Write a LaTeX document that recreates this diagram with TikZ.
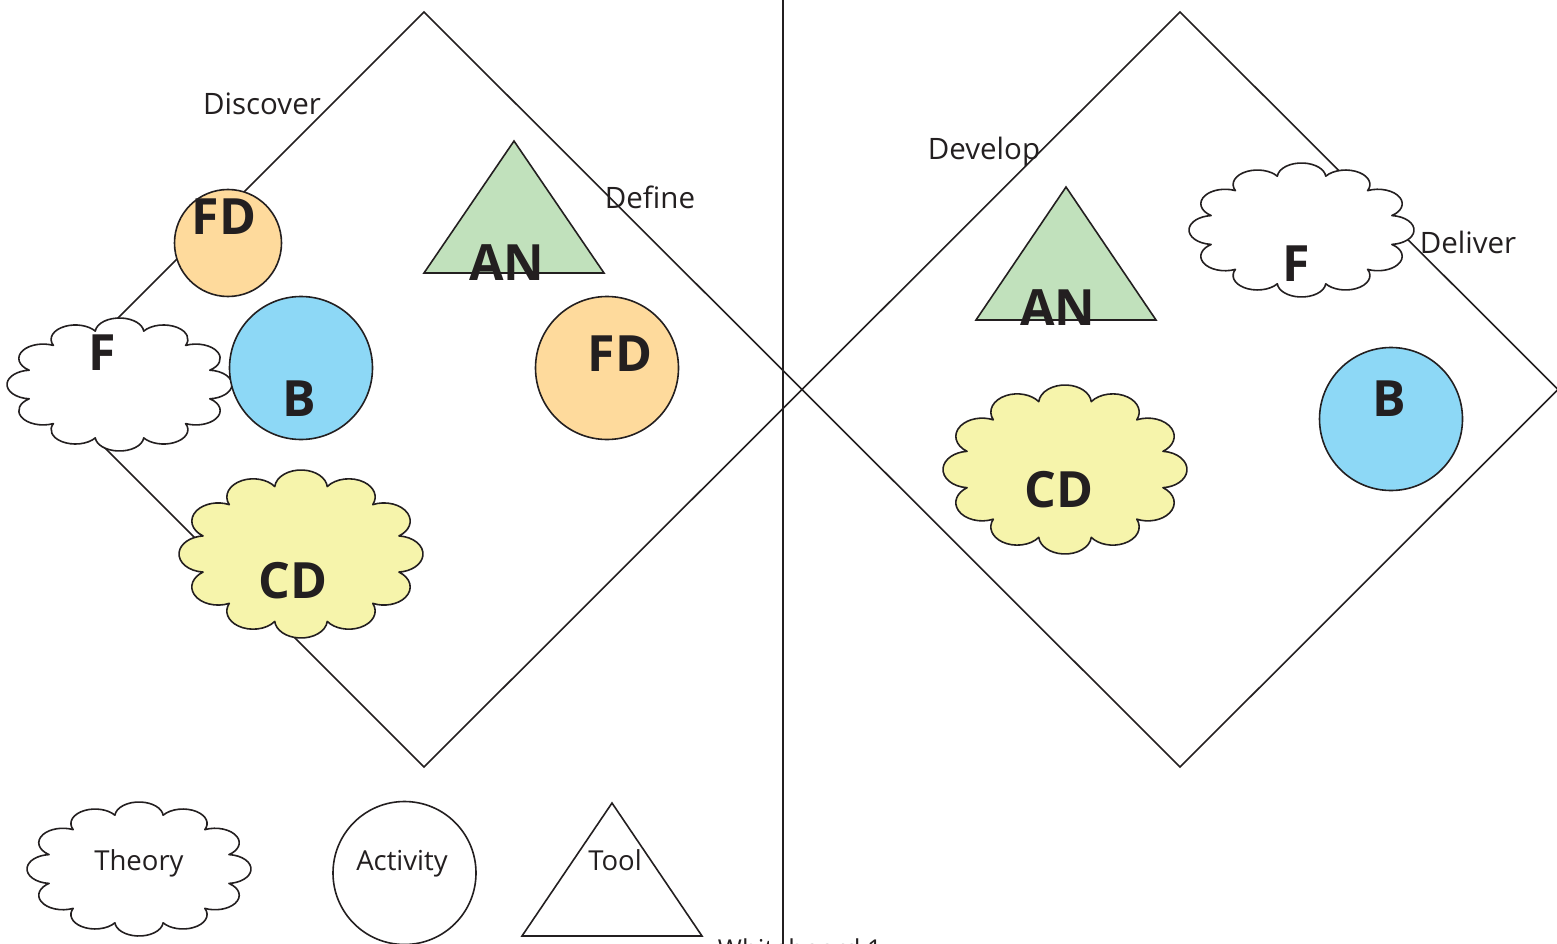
\documentclass[tikz,border=0pt]{standalone}
\usepackage{fontspec}
\setmainfont{Open Sans}
\definecolor{ink}{HTML}{231F20}
\definecolor{peach}{HTML}{FEDA9C}
\definecolor{sky}{HTML}{8DD8F6}
\definecolor{sage}{HTML}{C1E1BC}
\definecolor{lemon}{HTML}{F6F4AB}
% a twelve-puff cloud: #1 name, #2/#3 centre, #4/#5 outer width/height, #6 fill
\newcommand\puffcloud[6]{%
  \begin{scope}[shift={(#2,#3)}, xscale=#4/2.406, yscale=#5/2.406]
    \path[outline, fill=#6] (-15:1)
      \foreach \t in {-15,15,...,315} {arc[start angle=\t-70, end angle=\t+100, radius=0.2598]} -- cycle;
    \coordinate (#1) at (0,0);
  \end{scope}}
\begin{document}
\begin{tikzpicture}[x=1pt,y=-1pt,
  outline/.style={draw=ink, line width=1.6pt, line join=round},
  tag/.style={font=\fontsize{29.5}{34}\selectfont, text=ink, inner sep=0pt, anchor=base},
  keytag/.style={font=\fontsize{27.5}{32}\selectfont, text=ink, inner sep=0pt, anchor=base},
  bigtag/.style={font=\fontsize{50}{56}\selectfont\bfseries, text=ink, inner sep=0pt, anchor=base},
  disc/.style={circle, outline, inner sep=0pt},
  tri/.style={outline, line join=miter},
]
\path[use as bounding box] (0,0) rectangle (1557,944);

% the two phase diamonds
\coordinate (lt) at (424,12);   \coordinate (lr) at (802,389.5);
\coordinate (lb) at (424,767);  \coordinate (ll) at (46.5,389.5);
\coordinate (rt) at (1180,12);  \coordinate (rr) at (1558,389.5);
\coordinate (rb) at (1180,767); \coordinate (rl) at (802,389.5);
\draw[outline, line join=miter] (lt) -- (lr) -- (lb) -- (ll) -- cycle;
\draw[outline, line join=miter] (rt) -- (rr) -- (rb) -- (rl) -- cycle;

% divider
\coordinate (vtop) at (783,0);
\coordinate (vbot) at (783,944);
\draw[outline] (vtop) -- (vbot);

% phase labels
\node[tag] (discover) at (262,115) {Discover};
\node[tag] (define)   at (650,208) {Define};
\node[tag] (develop)  at (984,160) {Develop};
\node[tag] (deliver)  at (1468,253) {Deliver};

% left diamond contents
\puffcloud{fL}{119.5}{384.5}{225}{133}{white}
\node[bigtag] (fLt) at (102,370) {F};
\node[disc, fill=peach, minimum size=107pt] (fdA) at (228,243) {};
\node[bigtag] (fdAt) at (224,234) {FD};
\coordinate (anA1) at (424,273); \coordinate (anA2) at (604,273); \coordinate (anA3) at (514,141);
\draw[tri, fill=sage] (anA1) -- (anA2) -- (anA3) -- cycle;
\node[bigtag] (anAt) at (507,280) {AN};
\node[disc, fill=sky, minimum size=143pt] (bA) at (301,368) {};
\node[bigtag] (bAt) at (299,416) {B};
\node[disc, fill=peach, minimum size=143pt] (fdB) at (607,368) {};
\node[bigtag] (fdBt) at (620,371) {FD};
\puffcloud{cdA}{301}{554}{244}{168}{lemon}
\node[bigtag] (cdAt) at (293,598) {CD};

% right diamond contents
\coordinate (anB1) at (976,320); \coordinate (anB2) at (1156,320); \coordinate (anB3) at (1066,187);
\draw[tri, fill=sage] (anB1) -- (anB2) -- (anB3) -- cycle;
\node[bigtag] (anBt) at (1058,325) {AN};
\puffcloud{fR}{1301.5}{230}{225}{134}{white}
\node[bigtag] (fRt) at (1296,281) {F};
\node[disc, fill=sky, minimum size=143pt] (bB) at (1391,419) {};
\node[bigtag] (bBt) at (1389,416) {B};
\puffcloud{cdB}{1065}{469.5}{244}{169}{lemon}
\node[bigtag] (cdBt) at (1059,507) {CD};

% legend
\puffcloud{theory}{139}{869}{224}{134}{white}
\node[keytag] (theoryt) at (139,870) {Theory};
\node[disc, fill=white, minimum size=143pt] (activity) at (404.5,873) {};
\node[keytag] (activityt) at (402,870) {Activity};
\coordinate (tl1) at (522,936); \coordinate (tl2) at (702,936); \coordinate (tl3) at (612,803);
\draw[tri, fill=white] (tl1) -- (tl2) -- (tl3) -- cycle;
\node[keytag] (toolt) at (615,870) {Tool};

% board title along the lower edge
\node[font=\fontsize{26}{30}\selectfont, text=ink, inner sep=0pt, anchor=base] (title) at (800,958) {Whiteboard 1};
\end{tikzpicture}
\end{document}
